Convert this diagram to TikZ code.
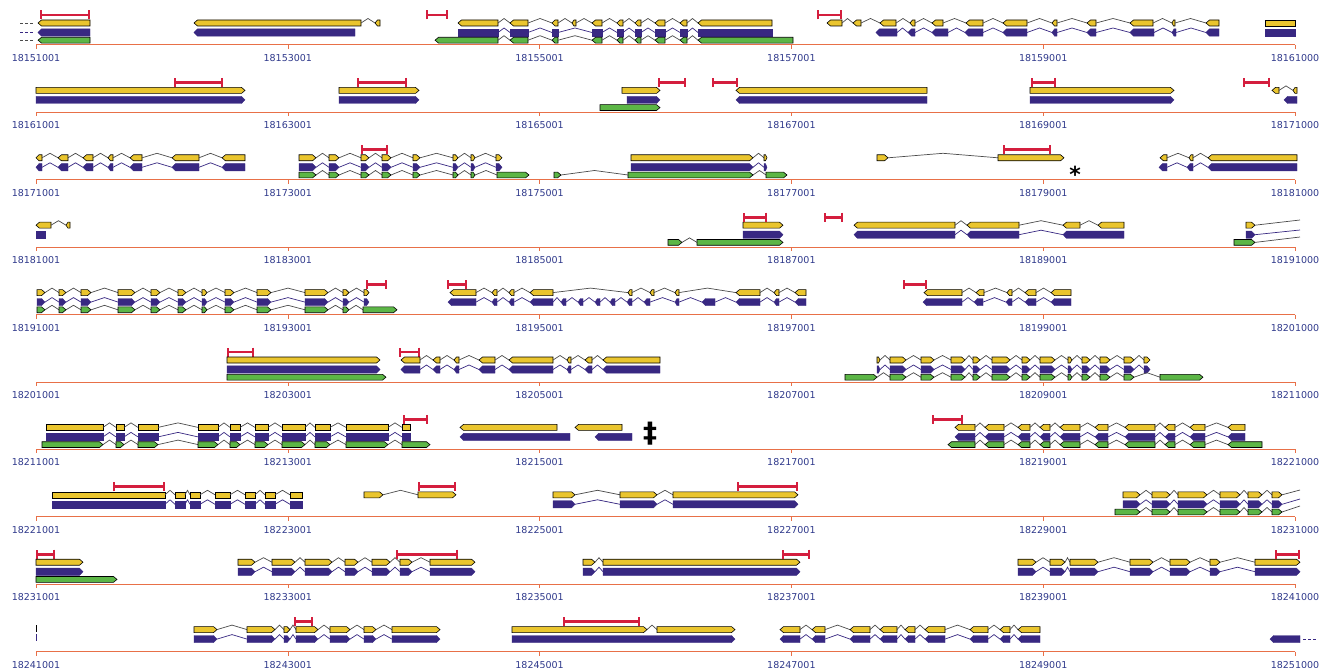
\documentclass[tikz,border=0pt]{standalone}
\usepackage{fontspec}
\newfontfamily\labfont{DejaVu Sans}
\usetikzlibrary{arrows.meta}
\definecolor{genyel}{RGB}{234,197,46}
\definecolor{genblu}{RGB}{56,40,130}
\definecolor{gengrn}{RGB}{92,182,70}
\definecolor{genred}{RGB}{212,30,62}
\definecolor{axisorg}{RGB}{232,112,72}
\definecolor{labblu}{RGB}{48,58,140}
\tikzset{
  yel/.style={draw=black,line width=0.6pt,fill=genyel},
  blu/.style={draw=genblu,line width=0.4pt,fill=genblu},
  grn/.style={draw=black,line width=0.6pt,fill=gengrn},
  yelintron/.style={draw=black!70,line width=0.7pt},
  bluintron/.style={draw=genblu,line width=0.7pt},
  grnintron/.style={draw=black!70,line width=0.7pt},
  marker/.style={draw=genred,line width=2.8pt,{Bar[width=9pt,line width=1.6pt]}-{Bar[width=9pt,line width=1.6pt]}},
  axisline/.style={draw=axisorg,line width=1pt},
  ticklab/.style={text=labblu,font=\labfont\fontsize{9.5}{10}\selectfont,inner sep=0pt}
}
% one exon: kind, start, end, y, dir (0 none, 1 right, 2 left), half height
\newcommand{\exon}[6]{%
  \pgfmathsetmacro\tp{min(3.5,(#3-#2)/2)}%
  \ifcase#5\relax
    \draw[#1] (#2,#4-#6) rectangle (#3,#4+#6);
  \or
    \draw[#1] (#2,#4-#6) -- (#3-\tp,#4-#6) -- (#3,#4) -- (#3-\tp,#4+#6) -- (#2,#4+#6) -- cycle;
  \or
    \draw[#1] (#2+\tp,#4-#6) -- (#3,#4-#6) -- (#3,#4+#6) -- (#2+\tp,#4+#6) -- (#2,#4) -- cycle;
  \fi}
% one transcript: kind, offset above axis, half height, row, dir, exon list
\newcommand{\trk}[6]{%
  \pgfmathsetmacro\ty{45+67.4*(#4-1)-#2}%
  \foreach \xa/\xb [count=\i, remember=\xb as \xp (initially 0)] in {#6}{%
    \ifnum\i>1 \draw[#1intron] (\xp,\ty) -- ({(\xp+\xa)/2},\ty-4.5) -- (\xa,\ty);\fi
    \exon{#1}{\xa}{\xb}{\ty}{#5}{#3}%
  }}
\newcommand{\yel}{\trk{yel}{22}{3.0}}
\newcommand{\blu}{\trk{blu}{12.5}{3.6}}
\newcommand{\grn}{\trk{grn}{4.8}{2.9}}
\newcommand{\mrk}[3]{\pgfmathsetmacro\ty{45+67.4*(#1-1)-30}\draw[marker] (#2,\ty) -- (#3,\ty);}

\begin{document}
\begin{tikzpicture}[x=1pt,y=-1pt]
\useasboundingbox[fill=white] (0,0) rectangle (1330,668);

% axes and coordinates
\foreach \r in {1,...,10}{
  \pgfmathsetmacro\ay{45+67.4*(\r-1)}
  \draw[axisline] (36,\ay) -- (1295,\ay);
  \foreach \k in {0,...,5}{
    \pgfmathsetmacro\tx{36+251.8*\k}
    \draw[axisline,line width=0.6pt] (\tx,\ay) -- (\tx,\ay+4);
    \ifnum\k<5
      \node[ticklab] (lab\r-\k) at (\tx,\ay+13) {\the\numexpr 18151001+10000*(\r-1)+2000*\k\relax};
    \else
      \node[ticklab] (lab\r-\k) at (\tx,\ay+13) {\the\numexpr 18161000+10000*(\r-1)\relax};
    \fi
  }
}

% row 1
\draw[black!70,densely dashed,line width=0.7pt] (20,23) -- (33,23);
\draw[genblu,densely dashed,line width=0.7pt] (20,32.5) -- (33,32.5);
\draw[black!70,densely dashed,line width=0.7pt] (20,40) -- (33,40);
\mrk{1}{40}{90}
\yel{1}{2}{38/90} \blu{1}{2}{38/90} \grn{1}{2}{38/90}
\yel{1}{2}{194/361, 375/380} \blu{1}{2}{194/355}
\mrk{1}{426}{448}
\yel{1}{2}{458/498, 510/528, 552/558, 572/576, 592/602, 617/623, 635/641, 655/665, 680/687, 698/772}
\blu{1}{0}{458/498, 510/528, 552/558, 592/602, 617/623, 635/641, 655/665, 680/687, 698/772}
\grn{1}{2}{435/498, 510/528, 552/558, 592/602, 617/623, 635/641, 655/665, 680/687, 698/793}
\mrk{1}{817}{842}
\yel{1}{2}{827/842, 853/861, 880/896, 910/915, 932/943, 966/983, 1003/1027, 1052/1057, 1087/1096, 1130/1153, 1172/1175, 1206/1219}
\blu{1}{2}{876/897, 908/915, 932/948, 965/983, 1003/1027, 1052/1057, 1087/1096, 1130/1154, 1172/1176, 1206/1219}
\yel{1}{0}{1265/1295} \blu{1}{0}{1265/1295}

% row 2
\yel{2}{1}{36/245} \blu{2}{1}{36/245} \mrk{2}{174}{223}
\yel{2}{1}{339/419} \blu{2}{1}{339/419} \mrk{2}{357}{407}
\yel{2}{1}{622/660} \blu{2}{1}{627/660} \grn{2}{1}{600/660} \mrk{2}{658}{686}
\mrk{2}{712}{738}
\yel{2}{2}{736/927} \blu{2}{2}{736/927}
\mrk{2}{1031}{1056}
\yel{2}{1}{1030/1174} \blu{2}{1}{1030/1174}
\mrk{2}{1243}{1270}
\yel{2}{2}{1272/1279, 1293/1297} \blu{2}{2}{1284/1297}

% row 3
\yel{3}{2}{36/42, 58/68, 83/93, 108/113, 130/142, 172/199, 222/245}
\blu{3}{2}{36/42, 58/68, 83/93, 108/113, 130/142, 172/199, 222/245}
\yel{3}{1}{299/316, 329/339, 361/369, 382/391, 413/420, 453/458, 471/475, 496/502}
\blu{3}{1}{299/316, 329/339, 361/369, 382/391, 413/420, 453/458, 471/475, 496/502}
\grn{3}{1}{299/316, 329/339, 361/369, 382/391, 413/420, 453/458, 471/475, 497/529}
\mrk{3}{361}{388}
\yel{3}{1}{631/753, 764/767} \blu{3}{1}{631/753, 764/767}
\grn{3}{1}{554/561, 628/753, 766/787}
\yel{3}{1}{877/888, 998/1064} \mrk{3}{1003}{1051}
\node[font=\labfont\bfseries\fontsize{22}{22}\selectfont,inner sep=0pt] (star) at (1075,174) {*};
\yel{3}{2}{1160/1167, 1189/1193, 1208/1297}
\blu{3}{2}{1159/1167, 1187/1193, 1208/1297}

% row 4
\yel{4}{2}{36/51, 66/70} \blu{4}{0}{36/45}
\grn{4}{1}{668/682, 697/783}
\yel{4}{1}{743/783} \blu{4}{1}{743/783} \mrk{4}{743}{767}
\mrk{4}{824}{843}
\yel{4}{2}{854/955, 967/1019, 1063/1080, 1098/1124}
\blu{4}{2}{854/955, 967/1019, 1063/1124}
\yel{4}{1}{1246/1255} \blu{4}{1}{1246/1255} \grn{4}{1}{1234/1255}
\draw[yelintron] (1255,225.2) -- (1300,220);
\draw[bluintron] (1255,234.7) -- (1300,230);
\draw[grnintron] (1255,242.4) -- (1300,237);

% row 5
\yel{5}{1}{37/45, 59/66, 81/91, 118/135, 151/160, 178/186, 202/207, 225/234, 257/271, 305/328, 343/349, 364/369}
\blu{5}{1}{37/45, 59/66, 81/91, 118/135, 151/160, 178/186, 202/207, 225/234, 257/271, 305/328, 343/349, 364/369}
\grn{5}{1}{37/45, 59/66, 81/91, 118/135, 151/160, 178/186, 202/207, 225/234, 257/271, 305/328, 343/349, 363/397}
\mrk{5}{366}{387}
\mrk{5}{447}{467}
\yel{5}{2}{450/476, 492/497, 509/514, 530/553, 628/632, 650/654, 675/679, 736/760, 774/779, 795/806}
\blu{5}{2}{448/476, 492/497, 509/514, 530/553, 561/566, 578/583, 595/600, 610/615, 627/632, 644/650, 675/679, 702/715, 736/760, 774/779, 795/806}
\mrk{5}{903}{927}
\yel{5}{2}{924/962, 976/984, 1007/1012, 1025/1036, 1051/1071}
\blu{5}{2}{923/962, 974/983, 1006/1012, 1025/1036, 1051/1071}

% row 6
\mrk{6}{227}{254}
\yel{6}{1}{227/380} \blu{6}{1}{227/380} \grn{6}{1}{227/386}
\mrk{6}{399}{420}
\yel{6}{2}{401/420, 433/440, 454/459, 479/495, 509/553, 567/571, 585/592, 603/660}
\blu{6}{2}{401/420, 433/440, 454/459, 479/495, 509/553, 567/571, 585/592, 603/660}
\yel{6}{1}{877/880, 890/906, 921/934, 951/965, 973/980, 992/1010, 1022/1030, 1040/1055, 1068/1072, 1082/1090, 1100/1110, 1124/1134, 1144/1150}
\blu{6}{1}{877/880, 890/906, 921/934, 951/965, 973/980, 992/1010, 1022/1030, 1040/1055, 1068/1072, 1082/1090, 1100/1110, 1124/1134, 1144/1150}
\grn{6}{1}{845/877, 890/906, 921/934, 951/965, 973/980, 992/1010, 1022/1030, 1040/1055, 1068/1072, 1082/1090, 1100/1110, 1124/1134, 1160/1203}

% row 7
\yel{7}{0}{46/103, 116/124, 138/158, 198/218, 230/240, 255/268, 282/305, 315/330, 346/388, 402/410}
\blu{7}{0}{46/103, 116/124, 138/158, 198/218, 230/240, 255/268, 282/305, 315/330, 346/388, 402/410}
\grn{7}{1}{42/103, 116/124, 138/158, 198/218, 230/240, 255/268, 282/305, 315/330, 346/388, 402/430}
\mrk{7}{403}{428}
\yel{7}{2}{460/557} \blu{7}{2}{460/570}
\yel{7}{2}{575/622} \blu{7}{2}{595/632}
\node[font=\labfont\bfseries\fontsize{28}{28}\selectfont,inner sep=0pt] (dagger) at (650,434) {‡};
\mrk{7}{932}{963}
\yel{7}{2}{955/975, 985/1004, 1018/1030, 1040/1050, 1060/1080, 1095/1108, 1125/1155, 1165/1175, 1190/1205, 1228/1245}
\blu{7}{2}{955/975, 985/1004, 1018/1030, 1040/1050, 1060/1080, 1095/1108, 1125/1155, 1165/1175, 1190/1205, 1228/1245}
\grn{7}{2}{948/975, 985/1004, 1018/1030, 1040/1050, 1060/1080, 1095/1108, 1125/1155, 1165/1175, 1190/1205, 1228/1262}

% row 8
\yel{8}{0}{52/165, 175/185, 190/200, 215/230, 245/255, 265/275, 290/302}
\blu{8}{0}{52/165, 175/185, 190/200, 215/230, 245/255, 265/275, 290/302}
\mrk{8}{113}{165}
\yel{8}{1}{364/383, 418/456} \mrk{8}{418}{456}
\yel{8}{1}{553/575, 620/657, 673/798} \blu{8}{1}{553/575, 620/657, 673/798} \mrk{8}{737}{798}
\yel{8}{1}{1123/1140, 1152/1170, 1178/1207, 1220/1240, 1248/1262, 1272/1282}
\blu{8}{1}{1123/1140, 1152/1170, 1178/1207, 1220/1240, 1248/1262, 1272/1282}
\grn{8}{1}{1115/1140, 1152/1170, 1178/1207, 1220/1240, 1248/1262, 1272/1282}
\draw[yelintron] (1282,494.8) -- (1300,490);
\draw[bluintron] (1282,504.3) -- (1300,499);
\draw[grnintron] (1282,512) -- (1300,506);

% row 9
\mrk{9}{36}{55}
\yel{9}{1}{36/83} \blu{9}{1}{36/83} \grn{9}{1}{36/117}
\yel{9}{1}{238/255, 272/295, 305/332, 345/358, 372/390, 400/412, 430/475}
\blu{9}{1}{238/255, 272/295, 305/332, 345/358, 372/390, 400/412, 430/475}
\mrk{9}{396}{458}
\yel{9}{1}{583/595, 603/800} \blu{9}{1}{583/595, 603/800} \mrk{9}{782}{810}
\yel{9}{1}{1018/1036, 1050/1065, 1070/1098, 1130/1153, 1170/1190, 1210/1220, 1255/1300}
\blu{9}{1}{1018/1036, 1050/1065, 1070/1098, 1130/1153, 1170/1190, 1210/1220, 1255/1300}
\mrk{9}{1275}{1300}

% row 10
\draw[black,line width=0.8pt] (36,625) -- (36,632);
\draw[genblu,line width=0.8pt] (36,634) -- (36,641);
\yel{10}{1}{194/217, 247/275, 284/290, 296/318, 330/350, 364/376, 392/440}
\blu{10}{1}{194/217, 247/275, 284/290, 296/318, 330/350, 364/376, 392/440}
\mrk{10}{294}{313}
\yel{10}{1}{512/647, 657/735} \blu{10}{1}{512/735} \mrk{10}{563}{640}
\yel{10}{2}{780/800, 812/825, 850/870, 880/897, 905/915, 925/945, 970/988, 1000/1010, 1018/1040}
\blu{10}{2}{780/800, 812/825, 850/870, 880/897, 905/915, 925/945, 970/988, 1000/1010, 1018/1040}
\blu{10}{2}{1270/1300}
\draw[genblu,densely dashed,line width=0.7pt] (1303,639) -- (1316,639);
\end{tikzpicture}
\end{document}
